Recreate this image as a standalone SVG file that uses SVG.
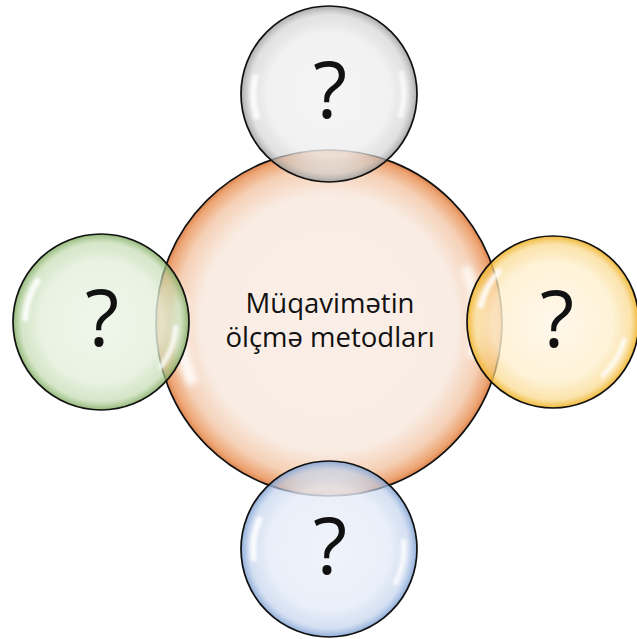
<svg xmlns="http://www.w3.org/2000/svg" xmlns:xlink="http://www.w3.org/1999/xlink" width="637" height="639" viewBox="0 0 637 639">
  <style>
    .rim { stroke: #111; stroke-width: 1.7; }
    .title { font-family: "Open Sans", "Noto Sans", "DejaVu Sans", sans-serif; font-size: 27.5px; fill: #111; text-anchor: middle; }
    .q { font-family: "Open Sans", "Noto Sans", "DejaVu Sans", sans-serif; font-size: 79px; fill: #111; text-anchor: middle; }
  </style>
  <defs>
    <!-- bubble fills: pale core, tinted rim -->
    <radialGradient id="gOrange" cx="0.5" cy="0.5" r="0.5">
      <stop offset="0" stop-color="#FAEFE8"/>
      <stop offset="0.74" stop-color="#F9ECE3"/>
      <stop offset="0.89" stop-color="#F5D0B6"/>
      <stop offset="0.97" stop-color="#EDA574"/>
      <stop offset="1" stop-color="#DD8550"/>
    </radialGradient>
    <radialGradient id="gGray" cx="0.5" cy="0.5" r="0.5">
      <stop offset="0" stop-color="#F4F4F4" stop-opacity="0.9"/>
      <stop offset="0.7" stop-color="#EEEEEE" stop-opacity="0.8"/>
      <stop offset="0.9" stop-color="#CFCFCF" stop-opacity="0.62"/>
      <stop offset="1" stop-color="#979797" stop-opacity="0.82"/>
    </radialGradient>
    <radialGradient id="gGreen" cx="0.5" cy="0.5" r="0.5">
      <stop offset="0" stop-color="#EEF6EA" stop-opacity="0.9"/>
      <stop offset="0.7" stop-color="#E4EFDB" stop-opacity="0.8"/>
      <stop offset="0.9" stop-color="#BCD7A8" stop-opacity="0.62"/>
      <stop offset="1" stop-color="#7FAA5F" stop-opacity="0.85"/>
    </radialGradient>
    <radialGradient id="gYellow" cx="0.5" cy="0.5" r="0.5">
      <stop offset="0" stop-color="#FFF7EA" stop-opacity="0.9"/>
      <stop offset="0.7" stop-color="#FEEFCD" stop-opacity="0.8"/>
      <stop offset="0.9" stop-color="#F9D683" stop-opacity="0.66"/>
      <stop offset="1" stop-color="#EFB020" stop-opacity="0.9"/>
    </radialGradient>
    <radialGradient id="gBlue" cx="0.5" cy="0.5" r="0.5">
      <stop offset="0" stop-color="#EEF2FA" stop-opacity="0.9"/>
      <stop offset="0.7" stop-color="#E4EBF7" stop-opacity="0.8"/>
      <stop offset="0.9" stop-color="#BDCFEB" stop-opacity="0.64"/>
      <stop offset="1" stop-color="#7FA1D3" stop-opacity="0.88"/>
    </radialGradient>
    <filter id="soft" x="-20%" y="-20%" width="140%" height="140%">
      <feGaussianBlur stdDeviation="1.8"/>
    </filter>
    <!-- glossy streaks for a bubble of radius 100 centred on the origin -->
    <g id="gloss" fill="none" stroke="#FFFFFF" stroke-linecap="round" filter="url(#soft)">
      <path d="M -86 -4 A 86 86 0 0 1 -72 -47" stroke-width="7" stroke-opacity="0.85"/>
      <path d="M 85 6 A 85 85 0 0 1 68 51" stroke-width="6" stroke-opacity="0.8"/>
    </g>
  </defs>

  <!-- centre bubble -->
  <g id="centre">
    <circle cx="329" cy="323" r="173" fill="url(#gOrange)" class="rim"/>
    <use xlink:href="#gloss" transform="translate(329,323) scale(1.73) rotate(-25)"/>
    <text class="title" x="330" y="313">Müqavimətin</text>
    <text class="title" x="330" y="347">ölçmə metodları</text>
  </g>

  <!-- satellite bubbles -->
  <g id="top">
    <circle cx="329" cy="94" r="88" fill="url(#gGray)" class="rim"/>
    <use xlink:href="#gloss" transform="translate(329,94) scale(0.88) rotate(-20)"/>
    <text class="q" x="330" y="118">?</text>
  </g>
  <g id="left">
    <circle cx="101" cy="322" r="88" fill="url(#gGreen)" class="rim"/>
    <use xlink:href="#gloss" transform="translate(101,322) scale(0.88)"/>
    <text class="q" x="102" y="346">?</text>
  </g>
  <g id="right">
    <circle cx="553" cy="322" r="86" fill="url(#gYellow)" class="rim"/>
    <use xlink:href="#gloss" transform="translate(553,322) scale(0.86) rotate(10)"/>
    <text class="q" x="557" y="347">?</text>
  </g>
  <g id="bottom">
    <circle cx="329" cy="549" r="88" fill="url(#gBlue)" class="rim"/>
    <use xlink:href="#gloss" transform="translate(329,549) scale(0.88) rotate(-10)"/>
    <text class="q" x="330" y="574">?</text>
  </g>

  <g id="connectors"/>
</svg>
